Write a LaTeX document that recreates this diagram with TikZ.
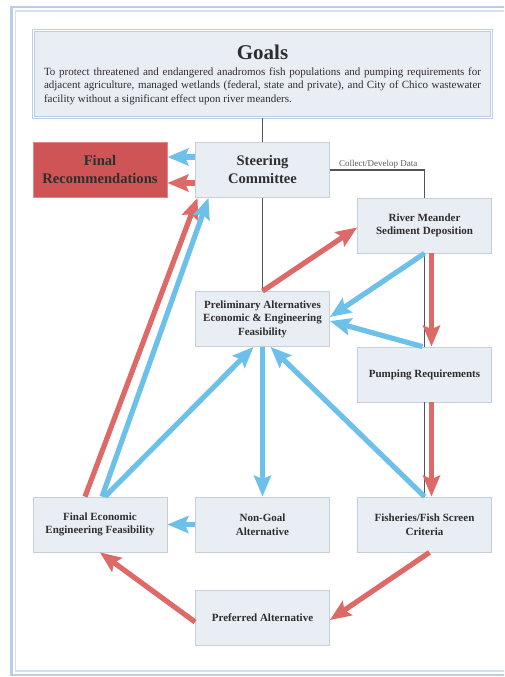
\documentclass[tikz,border=0pt]{standalone}
\usepackage{fontspec}
\setmainfont{Liberation Serif}
\definecolor{frameblue}{RGB}{188,205,232}
\definecolor{frameblueinner}{RGB}{212,223,240}
\definecolor{boxfill}{RGB}{233,237,244}
\definecolor{boxline}{RGB}{200,206,216}
\definecolor{recred}{RGB}{207,84,85}
\definecolor{flowblue}{RGB}{109,192,234}
\definecolor{flowred}{RGB}{221,106,102}
\definecolor{linkgray}{RGB}{85,85,85}
\usetikzlibrary{arrows.meta,positioning,calc}

\begin{document}
\begin{tikzpicture}[x=1pt, y=-1pt,
    every node/.style={font=\fontsize{11}{13.5}\selectfont\bfseries, text=black!82},
    flowbox/.style={draw=boxline, fill=boxfill, line width=0.8pt, minimum width=134pt, minimum height=55pt, inner sep=0pt, align=center},
    recbox/.style={flowbox, fill=recred, draw=recred!70!white},
    bigtext/.style={font=\fontsize{14.6}{18}\selectfont\bfseries},
    bluearrow/.style={line width=5.2pt, flowblue, -{Stealth[length=21pt,width=17pt,inset=3.5pt]}},
    redarrow/.style={bluearrow, flowred},
    linkline/.style={linkgray, line width=1.2pt}]
    \useasboundingbox (0,0) rectangle (504,677);
    \clip (0,0) rectangle (504,677);
    \draw[frameblue, line width=2.5pt] (11.5,7) rectangle (560,675);
    \draw[frameblueinner, line width=1.5pt] (15.5,11) rectangle (560,671);

    \node[draw=frameblue, double=white, double distance=1.2pt, line width=0.8pt, fill=boxfill, minimum width=458pt, minimum height=87pt, inner sep=0pt] (goals) at (262.5,74) {};
    \node[font=\fontsize{21}{24}\selectfont\bfseries] (goalstitle) at (262.5,52) {Goals};
    \node[font=\fontsize{11}{13.5}\selectfont, text width=437pt, align=justify, inner sep=0pt] (goalstext) at (262.5,86) {To protect threatened and endangered anadromos fish populations and pumping requirements for\linebreak adjacent agriculture, managed wetlands (federal, state and private), and City of Chico wastewater\linebreak facility without a significant effect upon river meanders.};

    \node[flowbox, bigtext] (steer) at (262.5,170) {Steering\\Committee};
    \node[recbox, bigtext] (finrec) at (100,170) {Final\\Recommendations};
    \node[flowbox] (river) at (424.5,225.5) {River Meander\\Sediment Deposition};
    \node[flowbox] (prelim) at (262.5,319) {Preliminary Alternatives\\Economic \& Engineering\\Feasibility};
    \node[flowbox] (pump) at (424.5,374.5) {Pumping Requirements};
    \node[flowbox] (fineco) at (100,524.5) {Final Economic\\Engineering Feasibility};
    \node[flowbox] (nongoal) at (262.5,524.5) {Non-Goal\\Alternative};
    \node[flowbox] (fish) at (424.5,524.5) {Fisheries/Fish Screen\\Criteria};
    \node[flowbox] (pref) at (262.5,618) {Preferred Alternative};

    \draw[linkline] (goals.south) -- (steer.north);
    \draw[linkline] (steer.south) -- (prelim.north);
    \draw[linkline] (steer.east) -| (river.north);
    \draw[linkline] (river.south) -- (pump.north);
    \draw[linkline] (pump.south) -- (fish.north);
    \node[font=\fontsize{9}{10}\selectfont, text=black!65, anchor=south west, inner sep=1pt] (collectlbl) at ([xshift=8pt]steer.east) {Collect/Develop Data};

    \draw[bluearrow] ([yshift=13pt]steer.west) -- ([yshift=13pt]finrec.east);
    \draw[redarrow] ([yshift=-13pt]steer.west) -- ([yshift=-13pt]finrec.east);
    \draw[redarrow] ([xshift=-15pt]fineco.north) -- ([xshift=-65pt]steer.south);
    \draw[bluearrow] ([xshift=2pt]fineco.north) -- ([xshift=-54pt]steer.south);
    \draw[bluearrow] ([xshift=5pt]fineco.north) -- ([xshift=-9pt]prelim.south);
    \draw[bluearrow] (prelim.south) -- (nongoal.north);
    \draw[bluearrow] (fish.north) -- ([xshift=8pt]prelim.south);
    \draw[bluearrow] (river.south) -- ([yshift=2pt]prelim.east);
    \draw[bluearrow] ([xshift=-2pt]pump.north) -- ([yshift=-2pt]prelim.east);
    \draw[bluearrow] (nongoal.west) -- (fineco.east);

    \draw[redarrow] (prelim.north) -- ([yshift=-2pt]river.west);
    \draw[redarrow] ([xshift=7pt]river.south) -- ([xshift=7pt]pump.north);
    \draw[redarrow] ([xshift=7pt]pump.south) -- ([xshift=7pt]fish.north);
    \draw[redarrow] ([xshift=5pt]fish.south) -- ([yshift=-2pt]pref.east);
    \draw[redarrow] ([yshift=-4pt]pref.west) -- (fineco.south);
\end{tikzpicture}
\end{document}
